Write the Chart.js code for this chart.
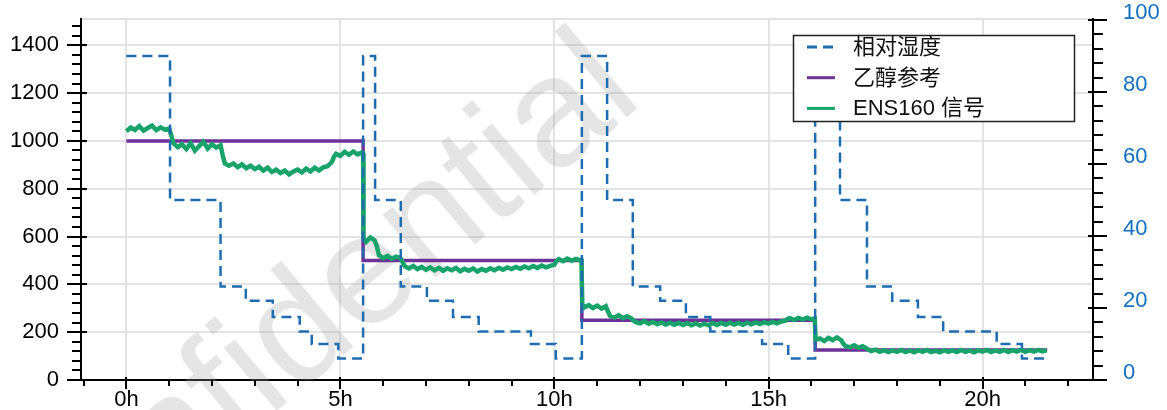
<!DOCTYPE html>
<html>
<head>
<meta charset="utf-8">
<title>ENS160 乙醇响应</title>
<script src="https://cdn.jsdelivr.net/npm/chart.js@4.4.1/dist/chart.umd.min.js"></script>
<style>
  html, body { margin: 0; padding: 0; background: #fff; }
  canvas { display: block; }
</style>
</head>
<body>
<canvas id="chart" width="1167" height="410"></canvas>
<script>
// Relative humidity (%), each value holds from its time to the next one
const rhTime  = [0, 1.02, 2.20, 2.79, 3.42, 4.05, 4.33, 4.95,
                 5.53, 5.81, 6.41, 7.02, 7.63, 8.23, 9.45, 10.03,
                 10.64, 11.23, 11.83, 12.47, 13.07, 13.64, 14.85, 15.46,
                 16.09, 16.67, 17.30, 17.89, 18.49, 19.08, 20.33, 20.92, 21.51];
const rhValue = [90, 50, 26, 22, 17.5, 13.5, 10, 6,
                 90, 50, 26, 22, 17.5, 13.5, 10, 6,
                 90, 50, 26, 22, 17.5, 13.5, 10, 6,
                 90, 50, 26, 22, 17.5, 13.5, 10, 6, 6];

// Ethanol reference (ppb), each value holds from its time to the next one
const refTime  = [0, 5.53, 10.64, 16.09, 21.51];
const refValue = [1000, 500, 250, 125, 125];

// ENS160 signal, [hours, value]
const signalPoints = [
  [0.0,1040],[0.1,1056],[0.2,1046],[0.3,1062],[0.4,1043],[0.5,1054],[0.6,1064],[0.7,1045],[0.8,1057],[0.9,1047],[1.0,1052],
  [1.05,1022],[1.1,990],[1.2,974],[1.3,986],[1.4,966],[1.5,990],[1.6,960],[1.7,978],[1.8,996],[1.9,968],[2.0,986],[2.1,972],[2.2,982],
  [2.25,940],[2.3,906],[2.4,896],[2.5,906],[2.6,890],[2.7,902],[2.8,886],[2.9,896],[3.0,882],[3.1,892],[3.2,876],[3.3,888],
  [3.4,870],[3.5,880],[3.6,866],[3.7,876],[3.8,860],[3.9,872],[4.0,880],[4.1,868],[4.2,884],[4.3,872],[4.4,888],[4.5,876],
  [4.6,890],[4.7,894],[4.8,912],[4.85,934],[4.9,946],[5.0,938],[5.1,954],[5.2,942],[5.3,956],[5.4,944],[5.5,952],[5.53,948],
  [5.54,592],[5.6,578],[5.7,596],[5.8,584],[5.85,560],[5.9,522],[6.0,510],[6.1,519],[6.2,507],[6.3,516],[6.4,511],[6.45,494],
  [6.5,476],[6.6,467],[6.7,477],[6.8,464],[6.9,473],[7.0,461],[7.1,471],[7.2,459],[7.3,469],[7.4,457],[7.5,467],[7.6,459],
  [7.7,469],[7.8,455],[7.9,465],[8.0,457],[8.1,467],[8.2,454],[8.3,464],[8.4,457],[8.5,467],[8.6,459],[8.7,469],[8.8,461],
  [8.9,471],[9.0,464],[9.1,473],[9.2,465],[9.3,475],[9.4,467],[9.5,477],[9.6,469],[9.7,479],[9.8,471],[9.9,477],[10.0,483],
  [10.05,499],[10.1,506],[10.2,497],[10.3,508],[10.4,499],[10.5,507],[10.6,501],[10.63,500],
  [10.65,316],[10.7,304],[10.8,313],[10.9,301],[11.0,311],[11.1,299],[11.2,309],[11.25,286],[11.3,268],[11.4,261],[11.5,271],
  [11.6,259],[11.7,267],[11.8,257],[11.85,248],[11.9,242],[12.0,237],[12.1,246],[12.2,235],[12.3,243],[12.4,233],[12.5,241],
  [12.6,232],[12.7,240],[12.8,231],[12.9,239],[13.0,230],[13.1,238],[13.2,229],[13.3,237],[13.4,228],[13.5,236],[13.6,229],
  [13.7,238],[13.8,230],[13.9,239],[14.0,231],[14.1,240],[14.2,232],[14.3,239],[14.4,231],[14.5,240],[14.6,233],[14.7,241],
  [14.8,234],[14.9,242],[15.0,236],[15.1,243],[15.2,237],[15.3,245],[15.4,248],[15.45,256],[15.5,259],[15.6,251],[15.7,260],
  [15.8,253],[15.9,261],[16.0,254],[16.08,257],
  [16.1,168],[16.2,174],[16.3,163],[16.4,176],[16.5,167],[16.6,178],[16.7,166],[16.75,151],[16.8,142],[16.9,137],[17.0,145],
  [17.1,135],[17.2,141],[17.3,131],[17.35,125],[17.4,121],[17.5,127],[17.6,118],[17.7,125],[17.8,117],[17.9,124],[18.0,118],
  [18.1,126],[18.2,117],[18.3,124],[18.4,116],[18.5,125],[18.6,118],[18.7,126],[18.8,117],[18.9,123],[19.0,116],[19.1,125],
  [19.2,118],[19.3,124],[19.4,117],[19.5,126],[19.6,118],[19.7,124],[19.8,116],[19.9,125],[20.0,119],[20.1,126],[20.2,117],
  [20.3,124],[20.4,118],[20.5,126],[20.6,117],[20.7,125],[20.8,119],[20.9,126],[21.0,118],[21.1,125],[21.2,119],[21.3,126],
  [21.4,120],[21.5,124]
];

// Axis ticks
const xMajorTicks = [0, 5, 10, 15, 20];
const xTickLabels = ['0h', '5h', '10h', '15h', '20h'];
const xMinorTicks = [-1, 1, 2, 3, 4, 6, 7, 8, 9, 11, 12, 13, 14, 16, 17, 18, 19, 21, 22];
const yMajorTicks = [0, 200, 400, 600, 800, 1000, 1200, 1400];
const y1MajorTicks = [0, 20, 40, 60, 80, 100];

const seriesLabels = ['相对湿度', '乙醇参考', 'ENS160 信号'];
const watermarkText = 'Confidential';

const X_MIN = -1.06, X_MAX = 22.58, Y_MAX = 1510, Y1_MAX = 100.3;

function steps(from, to, step, skip) {
  const out = [];
  for (let v = from; v <= to + 1e-9; v += step) {
    const r = Math.round(v * 100) / 100;
    if (!skip.includes(r)) out.push(r);
  }
  return out;
}
const yMinorTicks = steps(0, 1480, 40, yMajorTicks);
const y1MinorTicks = steps(0, 100, 4, y1MajorTicks);

// light watermark behind the lines
const watermark = {
  id: 'watermark',
  beforeDatasetsDraw(chart) {
    const c = chart.ctx;
    c.save();
    c.translate(18, 628);
    c.rotate(-40 * Math.PI / 180);
    c.font = '155px "Liberation Sans", Arial, sans-serif';
    c.fillStyle = 'rgba(160,160,160,0.28)';
    c.textBaseline = 'alphabetic';
    c.fillText(watermarkText, 0, 0);
    c.restore();
  }
};

// major / minor tick marks like the original
const tickMarks = {
  id: 'tickMarks',
  afterDraw(chart) {
    const c = chart.ctx;
    const area = chart.chartArea;
    const sx = chart.scales.x, sy = chart.scales.y, sy1 = chart.scales.y1;
    c.save();
    c.strokeStyle = '#000';
    c.lineWidth = 2;
    const seg = (x0, y0, x1, y1) => { c.beginPath(); c.moveTo(x0, y0); c.lineTo(x1, y1); c.stroke(); };
    const L = area.left, R = area.right, B = area.bottom;
    yMajorTicks.forEach(v => { const p = Math.round(sy.getPixelForValue(v)); seg(L - 14, p, L + 6, p); });
    yMinorTicks.forEach(v => { const p = Math.round(sy.getPixelForValue(v)); seg(L - 9, p, L + 1, p); });
    y1MajorTicks.forEach(v => { const p = Math.round(sy1.getPixelForValue(v)); seg(R - 5, p, R + 14, p); });
    y1MinorTicks.forEach(v => { const p = Math.round(sy1.getPixelForValue(v)); seg(R - 1, p, R + 10, p); });
    xMajorTicks.forEach(v => { const p = Math.round(sx.getPixelForValue(v)); seg(p, B - 3, p, B + 9); });
    xMinorTicks.forEach(v => { const p = Math.round(sx.getPixelForValue(v)); seg(p, B, p, B + 6); });
    c.restore();
  }
};

// boxed legend inside the plot, top right
const boxLegend = {
  id: 'boxLegend',
  afterDraw(chart) {
    const c = chart.ctx;
    c.save();
    c.fillStyle = '#fff';
    c.fillRect(793, 35, 282, 87);
    c.strokeStyle = '#222';
    c.lineWidth = 1.5;
    c.strokeRect(793.5, 35.5, 281, 86);
    chart.data.datasets.forEach((ds, row) => {
      const yy = 47 + row * 30.7;
      c.beginPath();
      c.setLineDash(ds.borderDash || []);
      c.strokeStyle = ds.borderColor;
      c.lineWidth = 3;
      c.moveTo(807, yy);
      c.lineTo(835, yy);
      c.stroke();
      c.setLineDash([]);
      c.fillStyle = '#111';
      c.font = '22px "Liberation Sans", "Noto Sans CJK SC", sans-serif';
      c.textBaseline = 'middle';
      c.fillText(ds.label, 853, yy + 1);
    });
    c.restore();
  }
};

Chart.defaults.font.family = '"Liberation Sans", Arial, sans-serif';
Chart.defaults.font.size = 22;
Chart.defaults.color = '#000';

const gridGrey = '#e3e3e3';
const noPad = s => { s.paddingTop = 0; s.paddingBottom = 0; s.paddingLeft = 0; s.paddingRight = 0; };

new Chart(document.getElementById('chart').getContext('2d'), {
  type: 'line',
  data: {
    datasets: [
      {
        label: seriesLabels[0],
        data: rhTime.map((t, i) => ({ x: t, y: rhValue[i] })),
        yAxisID: 'y1',
        stepped: 'before',
        borderColor: '#1f6db0',
        borderWidth: 2.5,
        borderDash: [10, 6],
        pointRadius: 0,
        fill: false,
        order: 0
      },
      {
        label: seriesLabels[1],
        data: refTime.map((t, i) => ({ x: t, y: refValue[i] })),
        yAxisID: 'y',
        stepped: 'before',
        borderColor: '#6e3199',
        borderWidth: 3.5,
        pointRadius: 0,
        fill: false,
        order: 2
      },
      {
        label: seriesLabels[2],
        data: signalPoints.map(p => ({ x: p[0], y: p[1] })),
        yAxisID: 'y',
        borderColor: '#17a36a',
        borderWidth: 4.5,
        pointRadius: 0,
        tension: 0,
        fill: false,
        order: 1
      }
    ]
  },
  options: {
    responsive: false,
    animation: false,
    layout: { padding: { top: 19, left: 0, right: 0, bottom: 0 } },
    plugins: { legend: { display: false }, tooltip: { enabled: false } },
    scales: {
      x: {
        type: 'linear',
        position: 'bottom',
        min: X_MIN,
        max: X_MAX,
        afterBuildTicks: s => { s.ticks = xMajorTicks.map(v => ({ value: v })); },
        afterFit: s => { s.height = 30; noPad(s); },
        ticks: {
          autoSkip: false,
          maxRotation: 0,
          padding: 7,
          callback: v => { const i = xMajorTicks.indexOf(v); return i >= 0 ? xTickLabels[i] : ''; }
        },
        grid: { color: gridGrey, lineWidth: 2, drawTicks: false },
        border: { display: true, color: '#000', width: 2 }
      },
      y: {
        type: 'linear',
        position: 'left',
        min: 0,
        max: Y_MAX,
        afterBuildTicks: s => { s.ticks = yMajorTicks.concat([Y_MAX]).map(v => ({ value: v })); },
        afterFit: s => { s.width = 81; noPad(s); },
        ticks: {
          autoSkip: false,
          padding: 22,
          callback: v => yMajorTicks.includes(v) ? String(v) : ''
        },
        grid: { color: gridGrey, lineWidth: 2, drawTicks: false },
        border: { display: true, color: '#000', width: 2 }
      },
      y1: {
        type: 'linear',
        position: 'right',
        min: 0,
        max: Y1_MAX,
        afterBuildTicks: s => { s.ticks = y1MajorTicks.map(v => ({ value: v })); },
        afterFit: s => { s.width = 74; noPad(s); },
        ticks: {
          autoSkip: false,
          padding: 30,
          labelOffset: -7,
          color: '#1570c0',
          callback: v => String(v)
        },
        grid: { display: false, drawTicks: false },
        border: { display: true, color: '#000', width: 2 }
      }
    }
  },
  plugins: [watermark, tickMarks, boxLegend]
});
</script>
</body>
</html>
